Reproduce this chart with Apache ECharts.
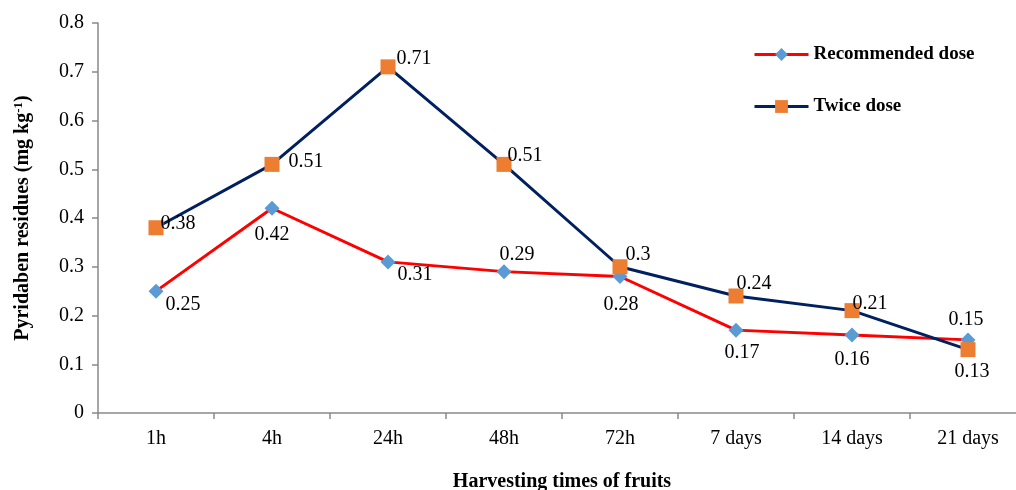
<!DOCTYPE html>
<html><head><meta charset="utf-8">
<script src="https://cdn.jsdelivr.net/npm/echarts@6/dist/echarts.min.js"></script>
<style>html,body{margin:0;padding:0;background:#fff}#c{width:1016px;height:490px}</style>
</head><body><div id="c"></div>
<script>
const categories = ['1h','4h','24h','48h','72h','7 days','14 days','21 days'];
const recommended = [0.25,0.42,0.31,0.29,0.28,0.17,0.16,0.15];
const twice = [0.38,0.51,0.71,0.51,0.3,0.24,0.21,0.13];
const yTicks = [0,0.1,0.2,0.3,0.4,0.5,0.6,0.7,0.8];

const recLabelPos = [['right',[-3,14]],['bottom',[0,4]],['right',[-3,13]],['top',[13,6]],['bottom',[1,6]],['bottom',[6,0]],['bottom',[0,2]],['top',[-2,2]]];
const twLabelPos = [['right',[-8,-4]],['right',[4,-3]],['right',[-4,-8]],['right',[-9,-9]],['right',[-7,-12]],['top',[18,10]],['top',[18,16]],['bottom',[4,0]]];

const FONT = '"Liberation Serif","Times New Roman",serif';
function mk(vals, pos){
  return vals.map((v,i)=>({value:v,label:{position:pos[i][0],offset:pos[i][1]}}));
}
const chart = echarts.init(document.getElementById('c'));
chart.setOption({
  animation:false,
  textStyle:{fontFamily:FONT},
  grid:{left:98,width:928,top:23,height:390,containLabel:false,outerBoundsMode:'none'},
  legend:{
    orient:'vertical', left:748, top:40, itemGap:33, itemWidth:54, itemHeight:16,
    lineStyle:{width:3},
    textStyle:{fontFamily:FONT,fontWeight:'bold',fontSize:19,color:'#000'},
    data:['Recommended dose','Twice dose']
  },
  xAxis:{
    type:'category', data:categories, boundaryGap:true,
    axisLine:{lineStyle:{color:'#898989',width:1.5}},
    axisTick:{show:true,length:6,lineStyle:{color:'#898989',width:1.5}},
    axisLabel:{color:'#000',fontSize:20,fontFamily:FONT,margin:16},
    name:'Harvesting times of fruits', nameLocation:'middle', nameGap:59,
    nameTextStyle:{color:'#000',fontWeight:'bold',fontSize:20,fontFamily:FONT}
  },
  yAxis:{
    type:'value', min:0, max:0.8, interval:0.1,
    axisLine:{show:true,lineStyle:{color:'#898989',width:1.5}},
    axisTick:{show:true,length:6,lineStyle:{color:'#898989',width:1.5}},
    splitLine:{show:false},
    axisLabel:{color:'#000',fontSize:20,fontFamily:FONT,margin:14,
      formatter:v=>{const t=yTicks.find(x=>Math.abs(x-v)<1e-9);return t===undefined?'':String(t);}},
    name:'{a|Pyridaben residues (mg kg}{s|-1}{a|)}', nameLocation:'middle', nameGap:64, nameRotate:90,
    nameTextStyle:{color:'#000',rich:{
      a:{fontWeight:'bold',fontSize:20,fontFamily:FONT,color:'#000'},
      s:{fontWeight:'bold',fontSize:13,fontFamily:FONT,color:'#000',verticalAlign:'top',padding:[0,0,9,0]}
    }}
  },
  series:[
    {name:'Recommended dose', type:'line', data:mk(recommended,recLabelPos),
     symbol:'diamond', symbolSize:15,
     lineStyle:{color:'#FF0000',width:3}, itemStyle:{color:'#5B9BD5'},
     label:{show:true,color:'#000',fontSize:20,fontFamily:FONT}},
    {name:'Twice dose', type:'line', data:mk(twice,twLabelPos),
     symbol:'rect', symbolSize:15,
     lineStyle:{color:'#002060',width:3}, itemStyle:{color:'#ED7D31'},
     label:{show:true,color:'#000',fontSize:20,fontFamily:FONT}}
  ]
});
</script></body></html>
